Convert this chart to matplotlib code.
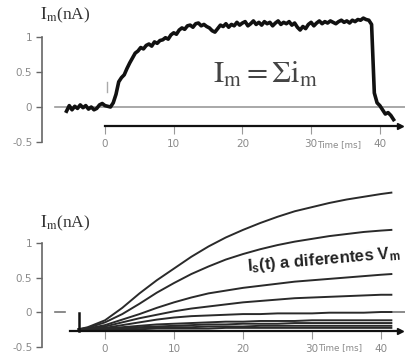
import numpy as np
import matplotlib
matplotlib.use("Agg")
import matplotlib.pyplot as plt

plt.rcParams['mathtext.fontset'] = 'stix'
plt.rcParams['mathtext.bf'] = 'Liberation Sans:bold'

# ---------------- data ----------------
# top panel: total membrane current (nA) sampled every 0.4 ms from -5.6 ms
t_top = np.arange(-5.6, 42.01, 0.4)
im_top = [
    -0.06, 0.02, -0.04, 0.01, -0.02, 0.03, -0.01, 0.02, -0.03, 0.00, -0.04, -0.02, 0.03, 0.05, 0.02,
    0.01, 0.00, 0.06, 0.18, 0.36, 0.42, 0.46, 0.55, 0.63, 0.70,
    0.77, 0.80, 0.85, 0.83, 0.88, 0.90, 0.87, 0.93, 0.91, 0.95,
    0.96, 0.99, 0.97, 1.03, 1.06, 1.04, 1.10, 1.13, 1.11, 1.16,
    1.17, 1.14, 1.19, 1.20, 1.16, 1.18, 1.15, 1.13, 1.09, 1.07,
    1.12, 1.17, 1.15, 1.19, 1.14, 1.18, 1.16, 1.21, 1.17, 1.20,
    1.22, 1.16, 1.19, 1.23, 1.18, 1.21, 1.17, 1.22, 1.19, 1.21,
    1.16, 1.20, 1.23, 1.18, 1.21, 1.19, 1.22, 1.17, 1.20, 1.14,
    1.10, 1.15, 1.12, 1.18, 1.21, 1.16, 1.20, 1.23, 1.19, 1.22,
    1.20, 1.23, 1.21, 1.19, 1.22, 1.24, 1.21, 1.23, 1.20, 1.24,
    1.22, 1.25, 1.24, 1.27, 1.25, 1.24, 1.18,
    0.20, 0.06, 0.02, -0.04, -0.10, -0.08, -0.12, -0.18,
]

# bottom panel: single-channel-type currents at different Vm
t_bot = [-3.8, -2.5, 0, 2.5, 5, 7.5, 10, 12.5, 15, 17.5, 20, 22.5, 25, 27.5, 30, 32.5, 35, 37.5, 40, 41.5]
is_1 = [-0.25, -0.22, -0.12, 0.06, 0.27, 0.46, 0.63, 0.80, 0.95, 1.08, 1.19, 1.29, 1.38, 1.46, 1.52, 1.58, 1.63, 1.67, 1.71, 1.73]
is_2 = [-0.25, -0.23, -0.15, -0.03, 0.12, 0.28, 0.42, 0.55, 0.66, 0.76, 0.84, 0.91, 0.97, 1.02, 1.06, 1.10, 1.13, 1.16, 1.18, 1.19]
is_3 = [-0.25, -0.24, -0.19, -0.11, -0.03, 0.06, 0.14, 0.21, 0.27, 0.31, 0.35, 0.38, 0.41, 0.44, 0.46, 0.48, 0.50, 0.52, 0.54, 0.55]
is_4 = [-0.25, -0.24, -0.21, -0.15, -0.09, -0.04, 0.01, 0.05, 0.08, 0.11, 0.14, 0.16, 0.18, 0.20, 0.21, 0.22, 0.23, 0.24, 0.25, 0.25]
is_5 = [-0.25, -0.25, -0.23, -0.19, -0.15, -0.11, -0.08, -0.06, -0.05, -0.04, -0.03, -0.03, -0.02, -0.02, -0.02, -0.01, -0.01, -0.01, 0.00, 0.00]
is_6 = [-0.25, -0.25, -0.24, -0.22, -0.20, -0.18, -0.17, -0.16, -0.15, -0.14, -0.14, -0.13, -0.13, -0.13, -0.12, -0.12, -0.12, -0.12, -0.12, -0.12]
is_7 = [-0.25, -0.25, -0.24, -0.23, -0.22, -0.21, -0.20, -0.19, -0.18, -0.18, -0.17, -0.17, -0.17, -0.16, -0.16, -0.16, -0.16, -0.16, -0.16, -0.16]
is_8 = [-0.25, -0.25, -0.25, -0.24, -0.23, -0.23, -0.22, -0.22, -0.21, -0.21, -0.21, -0.20, -0.20, -0.20, -0.20, -0.20, -0.20, -0.20, -0.20, -0.20]
is_9 = [-0.25, -0.25, -0.25, -0.25, -0.25, -0.24, -0.24, -0.24, -0.24, -0.23, -0.23, -0.23, -0.23, -0.23, -0.23, -0.23, -0.23, -0.23, -0.23, -0.23]
bottom_series = [is_1, is_2, is_3, is_4, is_5, is_6, is_7, is_8, is_9]

y_ticks = [-0.5, 0, 0.5, 1]
y_ticklabels = ["-0.5", "0", "0.5", "1"]
x_ticks = [0, 10, 20, 30, 40]
x_ticklabels = ["0", "10", "20", "30", "40"]

# ---------------- figure ----------------
W, H = 406, 363
fig = plt.figure(figsize=(W / 100, H / 100), dpi=100)
ax1 = fig.add_axes([0, (H - 180) / H, 1, 180 / H])
ax2 = fig.add_axes([0, 0, 1, 183 / H])

GRAY_T = '#8a8a8a'


def style_axes(ax, x_spine, y_axis, xb0, xb1, y_time):
    ax.set_facecolor('none')
    for s in ['top', 'right']:
        ax.spines[s].set_visible(False)
    ax.spines['left'].set_position(('data', x_spine))
    ax.spines['left'].set_bounds(-0.5, 1)
    ax.spines['left'].set_color('#666666')
    ax.spines['left'].set_linewidth(1.2)
    ax.spines['bottom'].set_position(('data', y_axis))
    ax.spines['bottom'].set_bounds(xb0, xb1)
    ax.spines['bottom'].set_color('#111111')
    ax.spines['bottom'].set_linewidth(1.6)
    ax.set_yticks(y_ticks)
    ax.set_yticklabels(y_ticklabels)
    ax.set_xticks(x_ticks)
    ax.set_xticklabels(x_ticklabels)
    ax.tick_params(axis='y', direction='out', length=4, width=1, color='#666666',
                   labelsize=7.5, labelcolor=GRAY_T, pad=3)
    ax.tick_params(axis='x', direction='out', length=5.5, width=0.8, color='#999999',
                   labelsize=7.5, labelcolor=GRAY_T, pad=4)
    ax.plot([xb1], [y_axis], marker='>', color='#111111', markersize=5, clip_on=False)
    ax.text(30.9, y_time, "Time [ms]", fontsize=6.3, color=GRAY_T,
            ha='left', va='center')


# top panel
ax1.set_xlim(-15.28, 43.81)
ax1.set_ylim(-1.043, 1.529)
style_axes(ax1, -9.17, -0.27, 0, 42.9, -0.54)
ax1.plot([-7.3, 44], [0, 0], color='#9a9a9a', lw=1.2)
ax1.plot(t_top, im_top, color='#111111', lw=2.6, solid_joinstyle='round')
ax1.plot([0.3, 0.3], [0.21, 0.36], color='#aaaaaa', lw=1)
ax1.text(-9.46, 1.31, r"$\mathrm{I_m}$(nA)", fontsize=12.5, family='Liberation Serif',
         color='#333333', ha='left', va='center')
ax1.text(23.3, 0.46, r"$\mathrm{I_m} = \Sigma\mathrm{i_m}$", fontsize=22,
         color='#444444', ha='center', va='center')

# bottom panel
ax2.set_xlim(-15.22, 43.62)
ax2.set_ylim(-0.739, 1.913)
style_axes(ax2, -9.13, -0.27, -5.1, 42.7, -0.51)
ax2.plot([-7.3, -5.8], [0, 0], color='#777777', lw=1.2)
ax2.plot([41.5, 44], [0, 0], color='#777777', lw=1.2)
for ys in bottom_series:
    ax2.plot(t_bot, ys, color='#2a2a2a', lw=1.4)
ax2.plot([-3.8, -3.8], [-0.27, -0.02], color='#111111', lw=1.8)
ax2.text(-9.46, 1.29, r"$\mathrm{I_m}$(nA)", fontsize=12.5, family='Liberation Serif',
         color='#333333', ha='left', va='center')
ax2.text(20.6, 0.60, r"$\mathbf{I_s}$(t) a diferentes $\mathbf{V_m}$", fontsize=12,
         family='Liberation Sans', fontweight='bold', math_fontfamily='custom',
         color='#222222', ha='left', va='baseline', rotation=5, rotation_mode='anchor')

fig.savefig('out.png', dpi=100)
